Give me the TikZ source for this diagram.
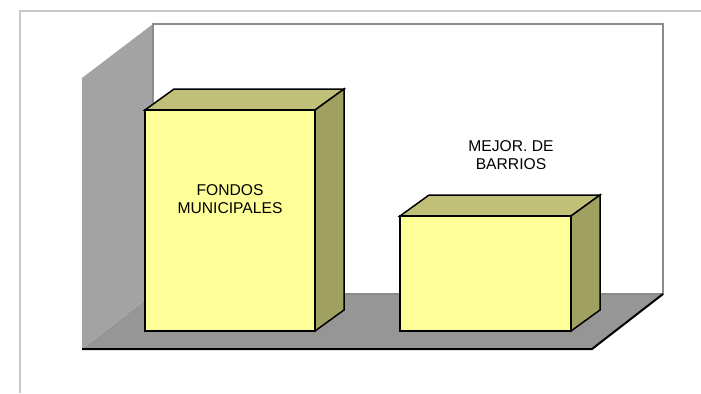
\documentclass[tikz,border=0pt]{standalone}
\usepackage{fontspec}
\setmainfont{Liberation Sans}
\definecolor{frontc}{RGB}{255,255,153}
\definecolor{topc}{RGB}{192,192,120}
\definecolor{sidec}{RGB}{160,160,96}
\definecolor{lwallc}{RGB}{163,163,163}
\definecolor{floorc}{RGB}{150,150,150}
\definecolor{bwallc}{RGB}{140,140,140}
\definecolor{framec}{RGB}{200,200,200}
\tikzset{
  face/.style={draw=black, line width=1.5bp, line join=miter},
  lbl/.style={font=\fontsize{15.7}{18}\selectfont, align=center, inner sep=0pt},
}
\newcommand{\barbox}[4]{% x1, y1(top), x2, y2(bottom)
  \fill[frontc,face] (#1,#2) rectangle (#3,#4);
  \filldraw[topc,face,draw=black] (#1,#2) -- ++(29,-21) -- ($(#3,#2)+(29,-21)$) -- (#3,#2) -- cycle;
  \filldraw[sidec,face,draw=black] (#3,#2) -- ++(29,-21) -- ($(#3,#4)+(29,-21)$) -- (#3,#4) -- cycle;
  \draw[face] (#1,#2) rectangle (#3,#4);
}
\usetikzlibrary{calc}
\begin{document}
\begin{tikzpicture}[x=1bp,y=-1bp]
\useasboundingbox (0,0) rectangle (701,393);
% outer frame
\draw[framec, line width=1.5bp] (20,393) -- (20,11) -- (701,11);
% back wall
\fill[white] (153,24) rectangle (663,294);
% floor
\fill[floorc] (153,294) -- (663,294) -- (592,349) -- (82,349) -- cycle;
% left wall
\fill[lwallc] (153,24) -- (153,294) -- (82,349) -- (82,78) -- cycle;
\draw[bwallc, line width=2bp] (153,294) -- (153,24) -- (663,24) -- (663,294) -- (153,294);
\draw[black, line width=2bp] (82,349) -- (592,349) -- (663,294);
% bars
\barbox{145}{110}{315}{331}
\barbox{400}{216}{571}{331}
% labels
\node[lbl] (l1) at (230,199) {FONDOS\\MUNICIPALES};
\node[lbl] (l2) at (511,155) {MEJOR. DE\\BARRIOS};
\end{tikzpicture}
\end{document}
